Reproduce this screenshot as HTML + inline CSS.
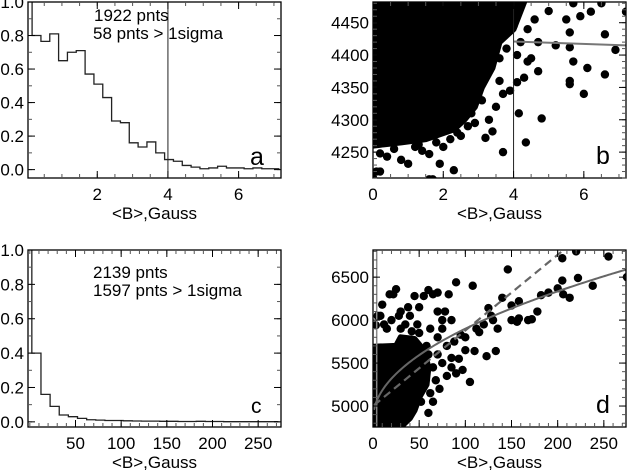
<!DOCTYPE html>
<html><head><meta charset="utf-8"><style>
body{margin:0;background:#fff;width:627px;height:470px;overflow:hidden}
svg text{font-family:"Liberation Sans",sans-serif;fill:#000}
</style></head><body>
<svg id="fig" width="627" height="470" viewBox="0 0 627 470" xmlns="http://www.w3.org/2000/svg"></svg>
<script>
// ---- Panel a data (histogram) ----
const aBinStart = 0.156, aBinWidth = 0.25;
const aValues = [0.80,0.765,0.81,0.65,0.70,0.71,0.57,0.51,0.43,0.29,0.28,0.16,0.135,0.165,0.10,0.06,0.05,0.025,0.015,0.005,0.01,0.02,0.01,0.01,0.005,0.01,0.005,0.005];
const aSpike = 1.2;
const aXTicks = [2,4,6];
const aYTicks = [0,0.2,0.4,0.6,0.8,1.0];
const aYLabels = ["0.0","0.2","0.4","0.6","0.8","1.0"];
const aCut = 4;
// ---- Panel c data (histogram) ----
const cBinStart = 2.2, cBinWidth = 10;
const cValues = [0.40,0.16,0.09,0.04,0.03,0.02,0.012,0.01,0.008,0.008,0.006,0.005,0.004,0.004,0.003,0.003,0.002,0.002,0.003,0.002,0.002,0.001,0.001,0.001,0.001,0.001,0.001];
const cSpike = 1.2;
const cXTicks = [50,100,150,200,250];
const cYTicks = [0,0.2,0.4,0.6,0.8,1.0];
// ---- Panel b data (scatter) ----
const bDenseX = [0,4.3,4.0,3.6,3.4,3.1,2.9,2.6,2.3,1.5,0.8,0.3,0];
const bDenseY = [4482,4482,4440,4420,4380,4350,4320,4300,4285,4270,4265,4262,4260];
const bPtsX = [4.35,3.7,4.8,4.15,6.0,5.6,5.6,6.6,6.1,4.7,4.5,5.7,6.9,5.2,5.6,5.6,6.6,7.2,6.2,5.9,5.5,5.0,4.6,3.4,3.2,2.3,1.9,1.0,0.8,0.1,0.2,0,1.6,1.7,1.4,1.6,2.0,0.2,0.4,4.1,4.4,4.2,4.7,4.1,4.3,3.7,3.9,3.5,3.1,3.3,2.9,6.5,5.7,4.0,4.4,3.6,2.7,2.5,1.2,3.8,3.6,3.2,3.0,2.8,2.4,2.2,1.8,1.3,0.6];
const bPtsY = [4265,4250,4302,4310,4340,4355,4360,4370,4380,4375,4395,4390,4408,4415,4412,4435,4432,4467,4467,4460,4455,4468,4455,4282,4272,4222,4232,4232,4238,4220,4220,4210,4208,4208,4252,4247,4258,4248,4243,4400,4390,4420,4420,4358,4365,4340,4345,4320,4330,4300,4295,4480,4480,4445,4440,4360,4290,4275,4258,4410,4395,4370,4335,4310,4280,4270,4265,4262,4255];
const bFitX = [4,7.2];
const bFitY = [4421,4415];
const bXTicks = [0,2,4,6];
const bYTicks = [4250,4300,4350,4400,4450];
// ---- Panel d data (scatter) ----
const dDenseX = [0,25,30,45,55,60,58,50,45,40,30,0];
const dDenseY = [5690,5700,5800,5780,5650,5450,5250,5100,4950,4860,4756,4756];
const dPtsX = [146,255,220,275,238,222,205,205,200,206,213,190,182,178,172,168,158,156,150,158,150,140,135,133,123,125,128,120,112,110,108,105,97,100,95,90,88,85,82,78,75,70,65,60,55,45,25,22,18,10,5,3,15,30,40,50,62,70,80,85,75,68,72,65,60,48,40,75,93,100,115,130,85,80,90,55,60,30,35,42,50,45,50,65,70,58,62,40,52,48,70,38,28,20,8,12];
const dPtsY = [6590,6740,6800,6500,6400,6490,6720,6460,6370,6300,6260,6320,6290,6100,6010,6000,6020,5980,6000,6220,6170,6260,5900,5640,5580,6140,6050,5950,5900,5640,6400,5280,5420,5650,5830,6440,5750,6000,6300,6100,6000,6320,6300,6350,6280,6280,6360,6300,6300,6180,6050,5940,5900,6100,6050,6150,5900,5800,5700,5560,5500,5300,5200,5050,4920,5240,5400,5900,5550,5800,5860,6000,5450,5350,5380,5500,5600,5900,5950,5870,5850,5650,5500,5450,5600,5700,5150,5100,5050,5950,6100,6150,6050,6000,6050,5950];
const dSqrtFit = [4850,105];   // y = a + b*sqrt(x)
const dLinFit = [5000,8.8];    // y = a + b*x
const dXTicks = [0,50,100,150,200,250];
const dYTicks = [5000,5500,6000,6500];

const NS="http://www.w3.org/2000/svg";
const svg=document.getElementById('fig');
function el(tag,attrs,parent){const e=document.createElementNS(NS,tag);for(const k in attrs)e.setAttribute(k,attrs[k]);(parent||svg).appendChild(e);return e;}
function txt(s,x,y,size,anchor,parent){const t=el('text',{x:x,y:y,'font-size':size,'text-anchor':anchor||'middle'},parent);t.textContent=s;return t;}

function panel(name,box,xd,yd){
  const g=el('g',{});
  
  
  const sx=v=>box.x0+(v-xd[0])/(xd[1]-xd[0])*(box.x1-box.x0);
  const sy=v=>box.y1-(v-yd[0])/(yd[1]-yd[0])*(box.y1-box.y0);
  const clipId='clip-'+name;
  const cp=el('clipPath',{id:clipId},g);
  el('rect',{x:box.x0,y:box.y0,width:box.x1-box.x0,height:box.y1-box.y0},cp);
  const plot=el('g',{'clip-path':'url(#'+clipId+')'},g);
  return {g,plot,sx,sy};
}
function frame(p,box,xt,xl,yt,yl,xMinor,yMinor,xd,yd,name){
  const g=p.g;
  const ax=el('g',{},g);
  
  
  el('rect',{x:box.x0,y:box.y0,width:box.x1-box.x0,height:box.y1-box.y0,fill:'none',stroke:'#000','stroke-width':1.3},ax);
  for(let v=Math.ceil(xd[0]/xMinor)*xMinor;v<=xd[1];v+=xMinor){const x=p.sx(v);
    el('line',{x1:x,x2:x,y1:box.y1,y2:box.y1-4,stroke:'#555'},ax);el('line',{x1:x,x2:x,y1:box.y0,y2:box.y0+4,stroke:'#555'},ax);}
  for(let v=Math.ceil(yd[0]/yMinor)*yMinor;v<=yd[1];v+=yMinor){const y=p.sy(v);
    el('line',{x1:box.x0,x2:box.x0+4,y1:y,y2:y,stroke:'#555'},ax);el('line',{x1:box.x1,x2:box.x1-4,y1:y,y2:y,stroke:'#555'},ax);}
  xt.forEach((v,i)=>{const x=p.sx(v);el('line',{x1:x,x2:x,y1:box.y1,y2:box.y1-7,stroke:'#000'},ax);el('line',{x1:x,x2:x,y1:box.y0,y2:box.y0+7,stroke:'#000'},ax);
    const t=txt(xl[i],x,box.y1+22,17,'middle',ax);});
  yt.forEach((v,i)=>{const y=p.sy(v);el('line',{x1:box.x0,x2:box.x0+7,y1:y,y2:y,stroke:'#000'},ax);el('line',{x1:box.x1,x2:box.x1-7,y1:y,y2:y,stroke:'#000'},ax);
    const t=txt(yl[i],box.x0-4,y+6,17,'end',ax);});
  const title=txt('<B>,Gauss',(box.x0+box.x1)/2,box.y1+41,17,'middle',ax);
  
  
}
function hist(p,start,w,vals,spike,name){
  let d='M'+p.sx(start-w)+','+p.sy(0)+' V'+p.sy(spike)+' H'+p.sx(start)+' ';
  vals.forEach((v,i)=>{d+='V'+p.sy(v)+' H'+p.sx(start+(i+1)*w)+' ';});
  const path=el('path',{d:d,fill:'none',stroke:'#222','stroke-width':1.3},p.plot);
  
  
}
function scatter(p,dx,dy,px,py,name){
  let d='';dx.forEach((v,i)=>{d+=(i?'L':'M')+p.sx(v)+','+p.sy(dy[i]);});
  const dense=el('path',{d:d+'Z',fill:'#000',stroke:'#000','stroke-width':6,'stroke-linejoin':'round'},p.plot);
  
  
  px.forEach((v,i)=>{const c=el('circle',{cx:p.sx(v),cy:p.sy(py[i]),r:4.2,fill:'#000'},p.plot);
    
    });
}
function label(s,x,y,size){const t=txt(s,x,y,size,'start');return t;}

// Panel a
const boxA={x0:28,x1:281,y0:2,y1:178};
const pa=panel('a',boxA,[0.04,7.2],[-0.05,1.0]);
hist(pa,aBinStart,aBinWidth,aValues,aSpike,'a');
const cutA=el('line',{x1:pa.sx(aCut),x2:pa.sx(aCut),y1:boxA.y0,y2:boxA.y1,stroke:'#222'},pa.g);


frame(pa,boxA,aXTicks,aXTicks.map(String),aYTicks,aYLabels,0.5,0.1,[0.04,7.2],[-0.05,1.0],'a');
label('1922 pnts',94,21,17);label('58 pnts > 1sigma',93,39,17);
txt('a',250,165,25,'start');

// Panel c
const boxC={x0:28,x1:281,y0:250,y1:427};
const pc=panel('c',boxC,[-2,275],[-0.03,1.0]);
hist(pc,cBinStart,cBinWidth,cValues,cSpike,'c');
frame(pc,boxC,cXTicks,cXTicks.map(String),cYTicks,aYLabels,10,0.1,[-2,275],[-0.03,1.0],'c');
label('2139 pnts',93,278,17);label('1597 pnts > 1sigma',93,296,17);
txt('c',251,413,21,'start');

// Panel b
const boxB={x0:373,x1:626,y0:2,y1:178};
const pb=panel('b',boxB,[0,7.2],[4210,4482]);
scatter(pb,bDenseX,bDenseY,bPtsX,bPtsY,'b');
const cutB=el('line',{x1:pb.sx(4),x2:pb.sx(4),y1:boxB.y0,y2:boxB.y1,stroke:'#222'},pb.g);


const fb=el('line',{x1:pb.sx(bFitX[0]),y1:pb.sy(bFitY[0]),x2:pb.sx(bFitX[1]),y2:pb.sy(bFitY[1]),stroke:'#777','stroke-width':2},pb.plot);


frame(pb,boxB,bXTicks,bXTicks.map(String),bYTicks,bYTicks.map(String),0.5,10,[0,7.2],[4210,4482],'b');
txt('b',596,164,25,'start');

// Panel d
const boxD={x0:373,x1:626,y0:250,y1:427};
const pd=panel('d',boxD,[0,274],[4756,6816]);
scatter(pd,dDenseX,dDenseY,dPtsX,dPtsY,'d');
const vl=el('line',{x1:pd.sx(4),x2:pd.sx(4),y1:boxD.y0,y2:boxD.y1,stroke:'#888','stroke-width':1.5},pd.plot);


let ds='',dl='';
for(let x=1;x<=275;x+=2){ds+=(x>1?'L':'M')+pd.sx(x)+','+pd.sy(dSqrtFit[0]+dSqrtFit[1]*Math.sqrt(x));
  dl+=(x>1?'L':'M')+pd.sx(x)+','+pd.sy(dLinFit[0]+dLinFit[1]*x);}
const fs=el('path',{d:ds,fill:'none',stroke:'#666','stroke-width':2},pd.plot);


const fl=el('path',{d:dl,fill:'none',stroke:'#666','stroke-width':2.2,'stroke-dasharray':'8,5'},pd.plot);


frame(pd,boxD,dXTicks,dXTicks.map(String),dYTicks,dYTicks.map(String),10,100,[0,274],[4756,6816],'d');
txt('d',596,413,25,'start');
</script>
</body></html>
